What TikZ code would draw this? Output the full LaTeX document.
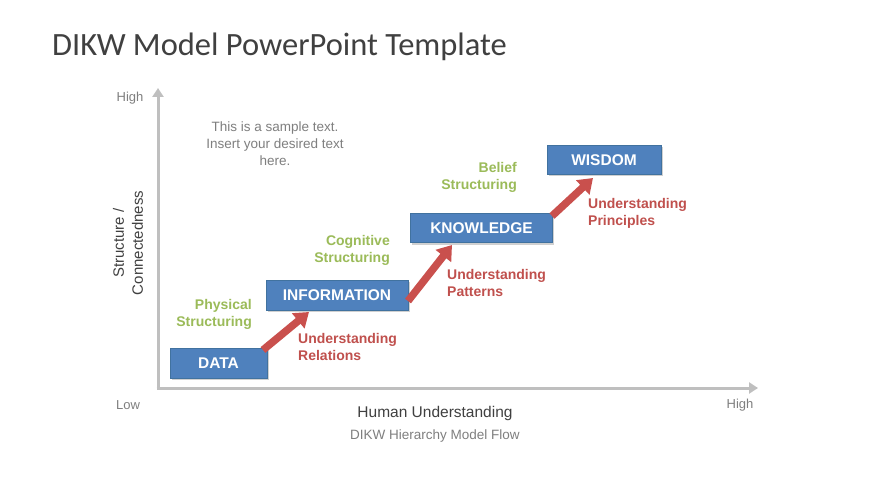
\documentclass[tikz,border=0pt]{standalone}
\usepackage{fontspec}
\setmainfont{Liberation Sans}
\newfontfamily\titlefont{Carlito}
\usetikzlibrary{arrows.meta,shadows}
\definecolor{boxblue}{HTML}{4F81BD}
\definecolor{boxedge}{HTML}{41729F}
\definecolor{arrred}{HTML}{C9504D}
\definecolor{lblred}{HTML}{C0504D}
\definecolor{lblgreen}{HTML}{9BBB59}
\definecolor{axisgray}{HTML}{BFBFBF}
\definecolor{txtgray}{HTML}{7F7F7F}
\definecolor{txtdark}{HTML}{404040}
\tikzset{
  stagebox/.style={draw=boxedge, line width=0.8pt, fill=boxblue, text=white, inner sep=0pt,
    font=\fontsize{15.5}{18}\selectfont\bfseries,
    drop shadow={shadow xshift=1.5pt, shadow yshift=-2pt, opacity=0.3, fill=black!60}},
  uparrow/.style={draw=arrred, line width=7.5pt, -{Triangle[length=14pt,width=19pt]}},
  axisline/.style={draw=axisgray, line width=3pt, -{Triangle[length=9pt,width=11pt]}},
  greenlbl/.style={text=lblgreen, font=\fontsize{14}{17}\selectfont\bfseries, align=right, inner sep=0pt},
  redlbl/.style={text=lblred, font=\fontsize{14}{17}\selectfont\bfseries, align=left, inner sep=0pt},
  graylbl/.style={text=txtgray, inner sep=0pt},
}
\begin{document}
\begin{tikzpicture}[x=1pt,y=-1pt]
\useasboundingbox[fill=white] (0,0) rectangle (870,489);

% title
\node[anchor=base west, text=txtdark, inner sep=0pt, font=\titlefont\fontsize{32.5}{38}\selectfont] (title) at (52,56) {DIKW Model PowerPoint Template};

% axes
\coordinate (origin) at (158,388);
\coordinate (ytop) at (158,88);
\coordinate (xright) at (758,388);
\draw[axisline] (origin) -- (ytop);
\draw[axisline] ([xshift=-1.5pt]origin) -- (xright);

\node[graylbl, font=\fontsize{13}{15}\selectfont] (yhigh) at (130,98) {High};
\node[graylbl, font=\fontsize{13}{15}\selectfont] (xlow) at (128,405) {Low};
\node[graylbl, font=\fontsize{13}{15}\selectfont] (xhigh) at (740,405) {High};

\node[text=txtdark, rotate=90, align=center, inner sep=0pt, font=\fontsize{15}{19}\selectfont] (ytitle) at (128,243) {Structure /\\Connectedness};
\node[text=txtdark, inner sep=0pt, font=\fontsize{15.5}{18}\selectfont] (xtitle) at (435,413) {Human Understanding};
\node[graylbl, font=\fontsize{13.5}{16}\selectfont] (subtitle) at (435,436) {DIKW Hierarchy Model Flow};

\node[graylbl, align=center, font=\fontsize{13.5}{17}\selectfont] (sample) at (275,144) {This is a sample text.\\Insert your desired text\\here.};

% boxes
\node[stagebox, minimum width=97pt, minimum height=30pt] (data) at (218.5,363) {DATA};
\node[stagebox, minimum width=142pt, minimum height=30pt] (info) at (337,295) {INFORMATION};
\node[stagebox, minimum width=142pt, minimum height=29pt] (know) at (481.5,228) {KNOWLEDGE};
\node[stagebox, minimum width=114pt, minimum height=29pt] (wis) at (604,160) {WISDOM};

% arrows
\coordinate (a1s) at (263,350);
\coordinate (a1e) at (309,312);
\coordinate (a2s) at (408,301);
\coordinate (a2e) at (452,245);
\coordinate (a3s) at (552,216);
\coordinate (a3e) at (593,178);
\draw[uparrow] (a1s) -- (a1e);
\draw[uparrow] (a2s) -- (a2e);
\draw[uparrow] (a3s) -- (a3e);

% green labels
\node[greenlbl, anchor=east] (g1) at (252,314) {Physical\\Structuring};
\node[greenlbl, anchor=east] (g2) at (390,250) {Cognitive\\Structuring};
\node[greenlbl, anchor=east] (g3) at (517,177) {Belief\\Structuring};

% red labels
\node[redlbl, anchor=west] (r1) at (298,346.5) {Understanding\\Relations};
\node[redlbl, anchor=west] (r2) at (447,283) {Understanding\\Patterns};
\node[redlbl, anchor=west] (r3) at (588,213.5) {Understanding\\Principles};
\end{tikzpicture}
\end{document}
